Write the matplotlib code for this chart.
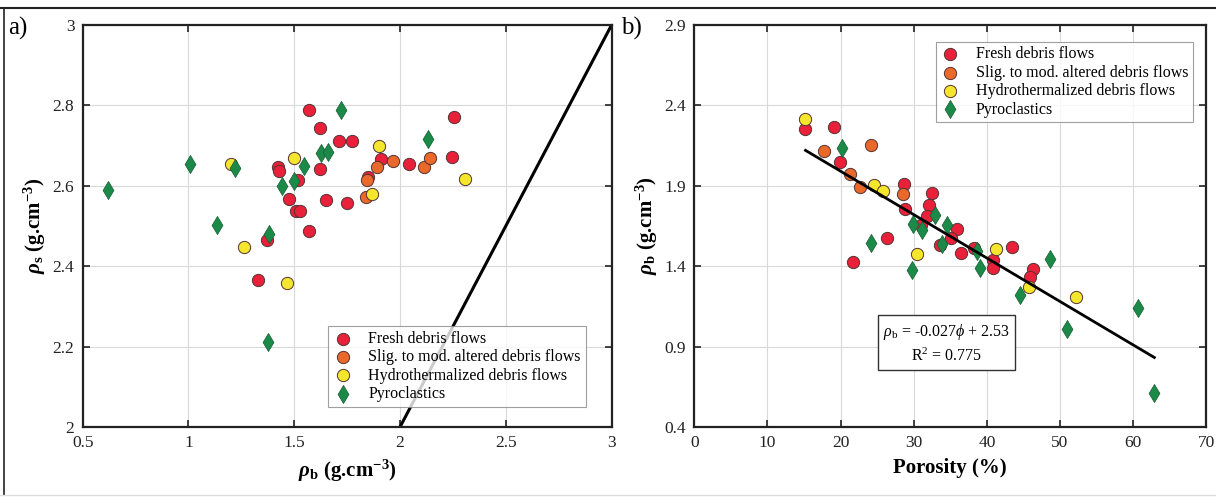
import matplotlib
matplotlib.use("Agg")
import matplotlib.pyplot as plt
from matplotlib.lines import Line2D

plt.rcParams["font.family"] = ["Liberation Serif", "DejaVu Serif"]
plt.rcParams["mathtext.fontset"] = "custom"
plt.rcParams["mathtext.rm"] = "Liberation Serif"
plt.rcParams["mathtext.it"] = "Liberation Serif:italic"
plt.rcParams["mathtext.bf"] = "Liberation Serif:bold"
plt.rcParams["mathtext.bfit"] = "Liberation Serif:bold:italic"

# ---- panel a): rho_b vs rho_s ----
fresh_rb = [1.571, 1.622, 1.710, 1.775, 2.254, 2.246, 1.908, 2.043, 1.421, 1.429, 1.622,
            1.519, 1.476, 1.648, 1.751, 1.508, 1.527, 1.571, 1.369, 1.33, 1.849]
fresh_rs = [2.787, 2.744, 2.711, 2.710, 2.771, 2.672, 2.667, 2.654, 2.646, 2.637, 2.642,
            2.615, 2.567, 2.565, 2.558, 2.537, 2.536, 2.487, 2.465, 2.366, 2.621]
slig_rb = [1.844, 1.889, 1.968, 2.111, 2.143, 1.841]
slig_rs = [2.614, 2.646, 2.662, 2.646, 2.669, 2.571]
hydro_rb = [1.203, 1.500, 1.902, 2.305, 1.865, 1.263, 1.467]
hydro_rs = [2.654, 2.668, 2.698, 2.617, 2.579, 2.448, 2.357]
pyro_rb = [0.619, 1.007, 1.222, 1.444, 1.497, 1.548, 1.627, 1.659, 1.722, 2.132, 1.136, 1.381, 1.376]
pyro_rs = [2.589, 2.653, 2.643, 2.600, 2.612, 2.648, 2.682, 2.683, 2.787, 2.715, 2.502, 2.479, 2.212]

# ---- panel b): porosity vs rho_b ----
fresh_phi = [15.2, 19.1, 19.9, 28.7, 32.5, 32.1, 28.8, 31.8, 31.0, 35.9, 35.1, 26.4, 21.7,
             33.6, 36.5, 38.3, 43.4, 40.8, 40.9, 46.3, 45.9]
fresh_pb = [2.253, 2.263, 2.045, 1.910, 1.853, 1.777, 1.752, 1.711, 1.653, 1.628, 1.577, 1.577, 1.427,
            1.530, 1.482, 1.515, 1.519, 1.437, 1.386, 1.379, 1.334]
slig_phi = [17.7, 24.2, 21.3, 22.7, 28.6]
slig_pb = [2.118, 2.153, 1.974, 1.894, 1.849]
hydro_phi = [15.2, 24.5, 25.8, 30.4, 41.3, 45.8, 52.2]
hydro_pb = [2.313, 1.906, 1.865, 1.478, 1.505, 1.268, 1.209]
pyro_phi = [20.2, 32.9, 29.9, 31.1, 34.6, 24.2, 29.7, 33.8, 38.7, 39.0, 48.7, 44.5, 50.9, 60.6, 62.9]
pyro_pb = [2.137, 1.719, 1.663, 1.622, 1.653, 1.544, 1.375, 1.540, 1.493, 1.386, 1.447, 1.221, 1.008,
           1.137, 0.614]

fit_slope, fit_icpt = -0.027, 2.53
fit_range = [15.2, 62.9]

labels = ["Fresh debris flows", "Slig. to mod. altered debris flows",
          "Hydrothermalized debris flows", "Pyroclastics"]
colors = ["#e8203a", "#e8692a", "#f4e62c", "#1b8a48"]


def style_axes(ax):
    ax.grid(True, color="#d9d9d9", linewidth=0.8)
    ax.set_axisbelow(True)
    ax.tick_params(direction="in", top=True, right=True, length=5, width=1.2,
                   labelsize=12.5, pad=6, colors="#222222")
    for sp in ax.spines.values():
        sp.set_linewidth(1.6)
        sp.set_color("#222222")


def draw_groups(ax, xs, ys):
    for i, (x, y) in enumerate(zip(xs, ys)):
        if i < 3:
            ax.scatter(x, y, s=78, marker="o", color=colors[i], edgecolor="#553333",
                       linewidth=0.7, label=labels[i], zorder=3)
        else:
            ax.scatter(x, y, s=85, marker="d", color=colors[i], edgecolor="#145c32",
                       linewidth=0.5, label=labels[i], zorder=3)


fig = plt.figure(figsize=(12.16, 4.97), dpi=100)
ax1 = fig.add_axes([0.068, 0.141, 0.435, 0.809])
ax2 = fig.add_axes([0.571, 0.141, 0.421, 0.809])

# panel a
style_axes(ax1)
ax1.plot([2, 3], [2, 3], color="black", linewidth=2.2, zorder=2)
draw_groups(ax1, [fresh_rb, slig_rb, hydro_rb, pyro_rb], [fresh_rs, slig_rs, hydro_rs, pyro_rs])
ax1.set_xlim(0.5, 3)
ax1.set_ylim(2, 3)
ax1.set_xticks([0.5, 1, 1.5, 2, 2.5, 3])
ax1.set_xticklabels(["0.5", "1", "1.5", "2", "2.5", "3"])
ax1.set_yticks([2, 2.2, 2.4, 2.6, 2.8, 3])
ax1.set_yticklabels(["2", "2.2", "2.4", "2.6", "2.8", "3"])
ax1.set_xlabel(r"$\mathbfit{\rho}_{\mathbf{b}}$ (g.cm$^{\mathbf{-3}}$)", fontsize=15,
               fontweight="bold", labelpad=5)
ax1.set_ylabel(r"$\mathbfit{\rho}_{\mathbf{s}}$ (g.cm$^{\mathbf{-3}}$)", fontsize=15,
               fontweight="bold", labelpad=3)
leg1 = ax1.legend(loc="lower right", bbox_to_anchor=(0.966, 0.03), fontsize=11.5, frameon=True,
                  fancybox=False, edgecolor="#888888", handletextpad=1.0, borderpad=0.3,
                  labelspacing=0.15, handlelength=1.2)
leg1.get_frame().set_linewidth(0.8)

# panel b
style_axes(ax2)
ax2.plot(fit_range, [fit_slope * v + fit_icpt for v in fit_range], color="black",
         linewidth=2.0, zorder=4)
draw_groups(ax2, [fresh_phi, slig_phi, hydro_phi, pyro_phi], [fresh_pb, slig_pb, hydro_pb, pyro_pb])
ax2.set_xlim(0, 70)
ax2.set_ylim(0.4, 2.9)
ax2.set_xticks(range(0, 71, 10))
ax2.set_yticks([0.4, 0.9, 1.4, 1.9, 2.4, 2.9])
ax2.set_xlabel("Porosity (%)", fontsize=15, fontweight="bold", labelpad=5)
ax2.set_ylabel(r"$\mathbfit{\rho}_{\mathbf{b}}$ (g.cm$^{\mathbf{-3}}$)", fontsize=15,
               fontweight="bold", labelpad=3)
leg2 = ax2.legend(loc="upper right", bbox_to_anchor=(0.99, 0.978), fontsize=11.5, frameon=True,
                  fancybox=False, edgecolor="#888888", handletextpad=1.0, borderpad=0.3,
                  labelspacing=0.15, handlelength=1.2)
leg2.get_frame().set_linewidth(0.8)
ax2.text(34.5, 0.92, r"$\rho_{\mathrm{b}}$ = -0.027$\phi$ + 2.53" + "\n" + r"R$^2$ = 0.775",
         ha="center", va="center", fontsize=11.5, linespacing=1.45, zorder=5,
         bbox=dict(boxstyle="square,pad=0.3", facecolor="white", edgecolor="#333333",
                   linewidth=1.0))

fig.text(0.007, 0.93, "a)", fontsize=18)
fig.text(0.511, 0.93, "b)", fontsize=18)

# outer frame lines
fig.add_artist(Line2D([0, 1], [0.984, 0.984], color="#222222", linewidth=1.5,
                      transform=fig.transFigure))
fig.add_artist(Line2D([0.003, 0.003], [0.005, 0.984], color="#222222", linewidth=1.2,
                      transform=fig.transFigure))
fig.add_artist(Line2D([0, 1], [0.005, 0.005], color="#dddddd", linewidth=1.0,
                      transform=fig.transFigure))

fig.savefig("out.png", dpi=100)
